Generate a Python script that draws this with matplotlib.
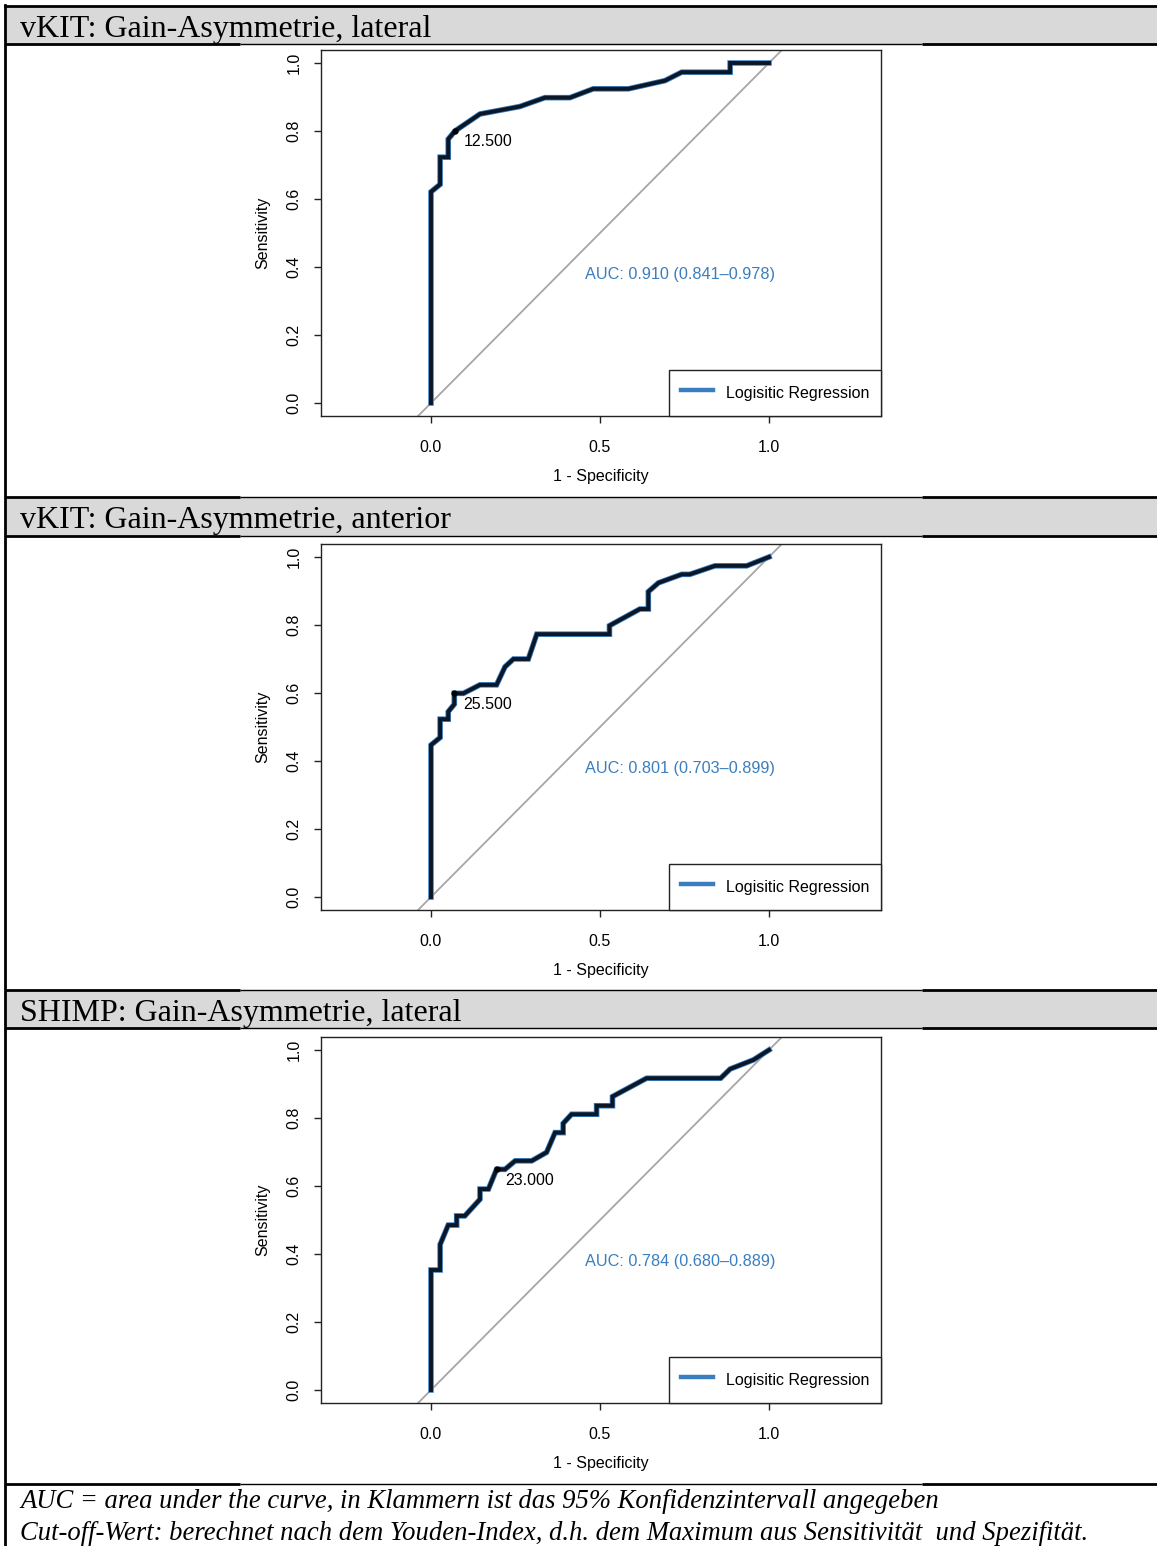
import matplotlib
matplotlib.use("Agg")
import matplotlib.pyplot as plt

W, H = 1157, 1546

titles = ["vKIT: Gain-Asymmetrie, lateral",
          "vKIT: Gain-Asymmetrie, anterior",
          "SHIMP: Gain-Asymmetrie, lateral"]

# 1 - specificity / sensitivity
fpr_lat = [0, 0, 0.027, 0.027, 0.051, 0.051, 0.071, 0.145, 0.263, 0.337, 0.411,
           0.480, 0.584, 0.692, 0.742, 0.885, 0.885, 1.0]
tpr_lat = [0, 0.621, 0.643, 0.723, 0.723, 0.776, 0.800, 0.850, 0.872, 0.898, 0.898,
           0.924, 0.924, 0.948, 0.973, 0.973, 1.0, 1.0]

fpr_ant = [0, 0, 0.027, 0.027, 0.051, 0.051, 0.069, 0.069, 0.096, 0.145, 0.194,
           0.219, 0.244, 0.288, 0.313, 0.528, 0.528, 0.618, 0.643, 0.643, 0.673,
           0.742, 0.766, 0.840, 0.934, 1.0]
tpr_ant = [0, 0.447, 0.469, 0.523, 0.523, 0.545, 0.567, 0.599, 0.599, 0.624, 0.624,
           0.677, 0.700, 0.700, 0.773, 0.773, 0.798, 0.847, 0.847, 0.898, 0.924,
           0.949, 0.949, 0.974, 0.974, 1.0]

fpr_shimp = [0, 0, 0.027, 0.027, 0.051, 0.076, 0.076, 0.100, 0.145, 0.145, 0.170,
             0.194, 0.219, 0.249, 0.298, 0.342, 0.367, 0.391, 0.391, 0.416, 0.490,
             0.490, 0.537, 0.537, 0.638, 0.857, 0.885, 0.954, 1.0]
tpr_shimp = [0, 0.353, 0.353, 0.428, 0.485, 0.485, 0.512, 0.512, 0.561, 0.591, 0.591,
             0.649, 0.649, 0.674, 0.674, 0.699, 0.757, 0.757, 0.784, 0.811, 0.811,
             0.836, 0.836, 0.863, 0.917, 0.917, 0.944, 0.971, 1.0]

cut_x = [0.071, 0.069, 0.194]
cut_y = [0.800, 0.599, 0.649]
cut_labels = ["12.500", "25.500", "23.000"]
auc_labels = ["AUC: 0.910 (0.841\u20130.978)",
              "AUC: 0.801 (0.703\u20130.899)",
              "AUC: 0.784 (0.680\u20130.889)"]
legend_label = "Logisitic Regression"

footer = ["AUC = area under the curve, in Klammern ist das 95% Konfidenzintervall angegeben",
          "Cut-off-Wert: berechnet nach dem Youden-Index, d.h. dem Maximum aus Sensitivit\u00e4t  und Spezifit\u00e4t."]

curves = [(fpr_lat, tpr_lat), (fpr_ant, tpr_ant), (fpr_shimp, tpr_shimp)]

plt.rcParams['font.family'] = ['Liberation Sans', 'DejaVu Sans']
BLUE = '#3a7ebf'
FS = 11.5

fig = plt.figure(figsize=(W / 100, H / 100), dpi=100)

# table background in pixel coordinates
bg = fig.add_axes([0, 0, 1, 1], zorder=0)
bg.set_xlim(0, W)
bg.set_ylim(H, 0)
bg.axis('off')

bands = [(6, 44), (497, 536), (990, 1028)]
for i, (t, b) in enumerate(bands):
    bg.fill_between([5, W], t, b, color='#d9d9d9', lw=0)
    bg.text(20, (t + b) / 2 + 4, titles[i], family=['Liberation Serif', 'DejaVu Serif'],
            fontsize=23, ha='left', va='center')

bg.plot([5, W], [6, 6], color='black', lw=2)
for y in [44, 497, 536, 990, 1028, 1484]:
    bg.plot([5, 240], [y, y], color='black', lw=2, solid_capstyle='butt')
    bg.plot([240, 922], [y, y], color='black', lw=1, solid_capstyle='butt')
    bg.plot([922, W], [y, y], color='black', lw=2, solid_capstyle='butt')
bg.plot([5, 5], [5, H], color='black', lw=2)

# footer, sized so line 1 spans the same width as in the table
renderer = fig.canvas.get_renderer()
ft = bg.text(20, 1501, footer[0], family=['Liberation Serif', 'DejaVu Serif'],
             style='italic', fontsize=20, ha='left', va='center')
w = ft.get_window_extent(renderer).width
fsz = 20 * 918 / w
ft.set_fontsize(fsz)
bg.text(20, 1534, footer[1], family=['Liberation Serif', 'DejaVu Serif'],
        style='italic', fontsize=fsz, ha='left', va='center')

box_tops = [50, 544, 1037]
for i, (fx, ty) in enumerate(curves):
    top = box_tops[i]
    ax = fig.add_axes([321 / W, 1 - (top + 366) / H, 560 / W, 366 / H], zorder=1)
    ax.set_xlim(-0.3254, 1.3314)
    ax.set_ylim(-0.0382, 1.0382)
    ax.plot([-0.5, 1.5], [-0.5, 1.5], color='#a6a6a6', lw=1.3)
    ax.plot(fx, ty, color=BLUE, lw=4.0, solid_joinstyle='miter')
    ax.plot(fx, ty, color='#0b1626', lw=2.8, solid_joinstyle='miter', label='_nolegend_')
    ax.plot([], [], color=BLUE, lw=3.2, label=legend_label)
    ax.plot(cut_x[i], cut_y[i], 'o', color='black', ms=3.5)
    ax.annotate(cut_labels[i], (cut_x[i], cut_y[i]), xytext=(9, -11),
                textcoords='offset pixels', fontsize=FS, ha='left', va='center')
    ax.text(0.737, 0.379, auc_labels[i], color=BLUE, fontsize=11.7, ha='center', va='center')

    ax.set_xticks([0, 0.5, 1])
    ax.set_xticklabels(['0.0', '0.5', '1.0'])
    ax.set_yticks([0, 0.2, 0.4, 0.6, 0.8, 1.0])
    ax.set_yticklabels(['0.0', '0.2', '0.4', '0.6', '0.8', '1.0'], rotation=90, va='center')
    ax.tick_params(length=5, width=1, labelsize=FS, color='#222222')
    ax.tick_params(axis='x', pad=12)
    ax.tick_params(axis='y', pad=9)
    for s in ax.spines.values():
        s.set_linewidth(1)
        s.set_color('#222222')

    ax.text(0.5, -0.164, "1 - Specificity", transform=ax.transAxes, fontsize=FS,
            ha='center', va='center')
    ax.text(-0.1036, 0.5, "Sensitivity", transform=ax.transAxes, fontsize=FS,
            rotation=90, ha='center', va='center')

    leg = ax.legend(loc='lower right', borderaxespad=0, fontsize=FS, fancybox=False,
                    framealpha=1, edgecolor='#222222', borderpad=0.75,
                    handlelength=2.0, handletextpad=0.8, handleheight=1.7)
    leg.get_frame().set_linewidth(1)

fig.savefig("out.png", dpi=100)
